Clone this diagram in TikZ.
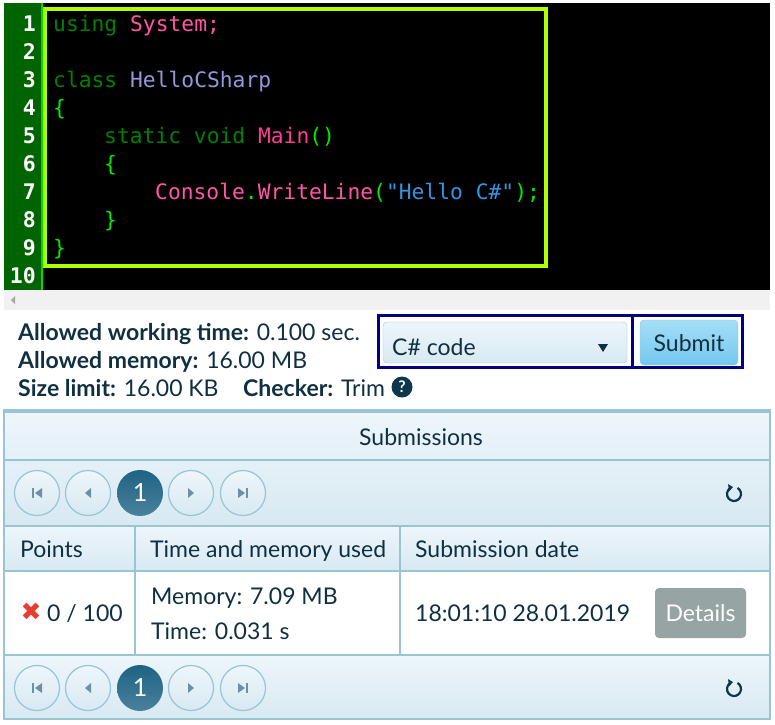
\documentclass[tikz,border=0pt]{standalone}
\usepackage{fontspec}
\setmainfont{Lato}
\newfontfamily\codefont{DejaVu Sans Mono}
\newfontfamily\symfont{DejaVu Sans}
\usetikzlibrary{arrows.meta}

\definecolor{gutter}{RGB}{0,100,0}
\definecolor{gutline}{RGB}{0,220,0}
\definecolor{hilite}{RGB}{176,255,0}
\definecolor{kw}{RGB}{0,128,0}
\definecolor{ident}{RGB}{255,85,165}
\definecolor{fn}{RGB}{255,60,150}
\definecolor{cls}{RGB}{150,150,220}
\definecolor{brc}{RGB}{0,235,0}
\definecolor{str}{RGB}{50,150,225}
\definecolor{txt}{RGB}{16,48,66}
\definecolor{navy}{RGB}{0,0,128}
\definecolor{pgline}{RGB}{152,196,212}
\definecolor{rowtop}{RGB}{237,246,251}
\definecolor{rowbot}{RGB}{216,233,242}
\definecolor{subtop}{RGB}{165,222,246}
\definecolor{subbot}{RGB}{115,200,240}
\definecolor{pgon}{RGB}{30,98,132}
\definecolor{pgicon}{RGB}{110,145,162}
\definecolor{detc}{RGB}{150,164,164}
\definecolor{xred}{RGB}{232,62,50}
\definecolor{helpc}{RGB}{14,55,76}
\definecolor{scroll}{RGB}{241,241,241}

\begin{document}
\begin{tikzpicture}
  [x=1pt,y=-1pt,every node/.style={inner sep=0pt,text=txt},
   code/.style={anchor=base west,font=\codefont\fontsize{21.3}{21}\selectfont},
   lnum/.style={anchor=base east,text=white,font=\codefont\bfseries\fontsize{21.5}{21}\selectfont},
   info/.style={anchor=base west,font=\fontsize{23}{23}\selectfont},
   cell/.style={anchor=base west,font=\fontsize{23}{23}\selectfont},
   pagebtn/.style={circle,draw=pgline,line width=1.2pt,top color=rowtop,bottom color=rowbot,minimum size=45pt},
   pageon/.style={circle,top color=pgon,bottom color=pgon!80!white,text=white,minimum size=46pt,font=\fontsize{25}{25}\selectfont},
   refresh/.style={draw=helpc,line width=2.2pt,-{Triangle[length=4.5pt,width=7pt]}}]
  \useasboundingbox (0,0) rectangle (775,724);

  % code editor
  \fill[black] (4,3) rectangle (770,290);
  \fill[gutter] (4,3) rectangle (43,290);
  \fill[gutline] (41,3) rectangle (43,290);
  \draw[hilite,line width=4pt] (45,9) rectangle (546,266);
  \foreach \i in {1,...,10}
    \node[lnum] (ln\i) at (36,{3+28*\i}) {\i};
  \node[code] (c1) at (53,31) {\textcolor{kw}{using} \textcolor{ident}{System;}};
  \node[code] (c3) at (53,87) {\textcolor{kw}{class} \textcolor{cls}{HelloCSharp}};
  \node[code] (c4) at (53,115) {\textcolor{brc}{\{}};
  \node[code] (c5) at (104,143) {\textcolor{kw}{static void} \textcolor{fn}{Main}\textcolor{brc}{()}};
  \node[code] (c6) at (104,171) {\textcolor{brc}{\{}};
  \node[code] (c7) at (155,199) {\textcolor{ident}{Console}\textcolor{brc}{.}\textcolor{ident}{WriteLine}\textcolor{brc}{(}\textcolor{str}{"Hello C\#"}\textcolor{brc}{);}};
  \node[code] (c8) at (104,227) {\textcolor{brc}{\}}};
  \node[code] (c9) at (53,255) {\textcolor{brc}{\}}};
  \fill[scroll] (4,290) rectangle (770,310);
  \fill[black!35] (11,300) -- (15,296) -- (15,304) -- cycle;

  % limits
  \node[info] (awt) at (18,340) {\textbf{Allowed working time:} 0.100 sec.};
  \node[info] (amem) at (18,368) {\textbf{Allowed memory:} 16.00 MB};
  \node[info] (size) at (18,396) {\textbf{Size limit:} 16.00 KB};
  \node[info] (chk) at (243,396) {\textbf{Checker:} Trim};
  \node[circle,fill=helpc,minimum size=21pt,text=white,font=\bfseries\fontsize{16}{16}\selectfont] (help) at (402,387) {?};

  % language and submit
  \draw[rounded corners=4pt,draw=pgline,top color=rowtop,bottom color=rowbot] (383,322) rectangle (627,363);
  \node[info] (lang) at (392,355) {C\# code};
  \fill[txt] (598,344) -- (608,344) -- (603,352) -- cycle;
  \draw[rounded corners=4pt,draw=pgline,top color=subtop,bottom color=subbot] (640,320) rectangle (738,365);
  \node[font=\fontsize{23}{23}\selectfont] (submit) at (689,343) {Submit};
  \draw[navy,line width=3pt] (378.5,315.5) rectangle (632,367.5);
  \draw[navy,line width=3pt] (632,315.5) rectangle (742.5,367.5);

  % submissions panel
  \shade[top color=rowtop,bottom color=rowbot] (4,410) rectangle (770,526);
  \shade[top color=rowtop,bottom color=rowbot] (4,526) rectangle (770,571);
  \shade[top color=rowtop,bottom color=rowbot] (4,655) rectangle (770,719);
  \fill[white] (4,571) rectangle (770,655);
  \foreach \y in {460,526,571,655}
    \draw[pgline,line width=1.5pt] (4,\y) -- (770,\y);
  \foreach \x in {135,400}
    \draw[pgline,line width=1.5pt] (\x,526) -- (\x,655);
  \draw[pgline,line width=1.5pt] (4,410) rectangle (770,719);
  \draw[pgline,line width=3pt] (4,411) -- (770,411);
  \node[font=\fontsize{23}{23}\selectfont] (subs) at (421,437) {Submissions};

  \foreach \r/\y in {a/493,b/688} {
    \foreach \k/\x in {1/37,2/88,4/191,5/243}
      \node[pagebtn] (pg\r\k) at (\x,\y) {};
    \node[pageon] (pg\r3) at (140,\y) {1};
    \fill[pgicon] (32,{\y-5}) rectangle (34,{\y+5});
    \fill[pgicon] (42,{\y-5}) -- (42,{\y+5}) -- (35,\y) -- cycle;
    \fill[pgicon] (91,{\y-5}) -- (91,{\y+5}) -- (85,\y) -- cycle;
    \fill[pgicon] (188,{\y-5}) -- (188,{\y+5}) -- (194,\y) -- cycle;
    \fill[pgicon] (238,{\y-5}) -- (238,{\y+5}) -- (245,\y) -- cycle;
    \fill[pgicon] (246,{\y-5}) rectangle (248,{\y+5});
    \draw[refresh] ([shift={(-60:7)}]734,{\y+1}) arc[start angle=-60,end angle=262,radius=7];
  }

  % table
  \node[cell] (hpts) at (20,557) {Points};
  \node[cell] (htm) at (150,557) {Time and memory used};
  \node[cell] (hdate) at (415,557) {Submission date};
  \node[text=xred,font=\symfont\fontsize{25}{25}\selectfont] (xmark) at (31,612) {✖};
  \node[cell] (pts) at (47,621) {0 / 100};
  \node[cell] (mem) at (151,604) {Memory: 7.09 MB};
  \node[cell] (tm) at (151,639) {Time: 0.031 s};
  \node[cell] (date) at (415,621) {18:01:10 28.01.2019};
  \node[fill=detc,rounded corners=4pt,minimum width=91pt,minimum height=50pt,text=white,font=\fontsize{23}{23}\selectfont] (details) at (700.5,613) {Details};
\end{tikzpicture}
\end{document}
